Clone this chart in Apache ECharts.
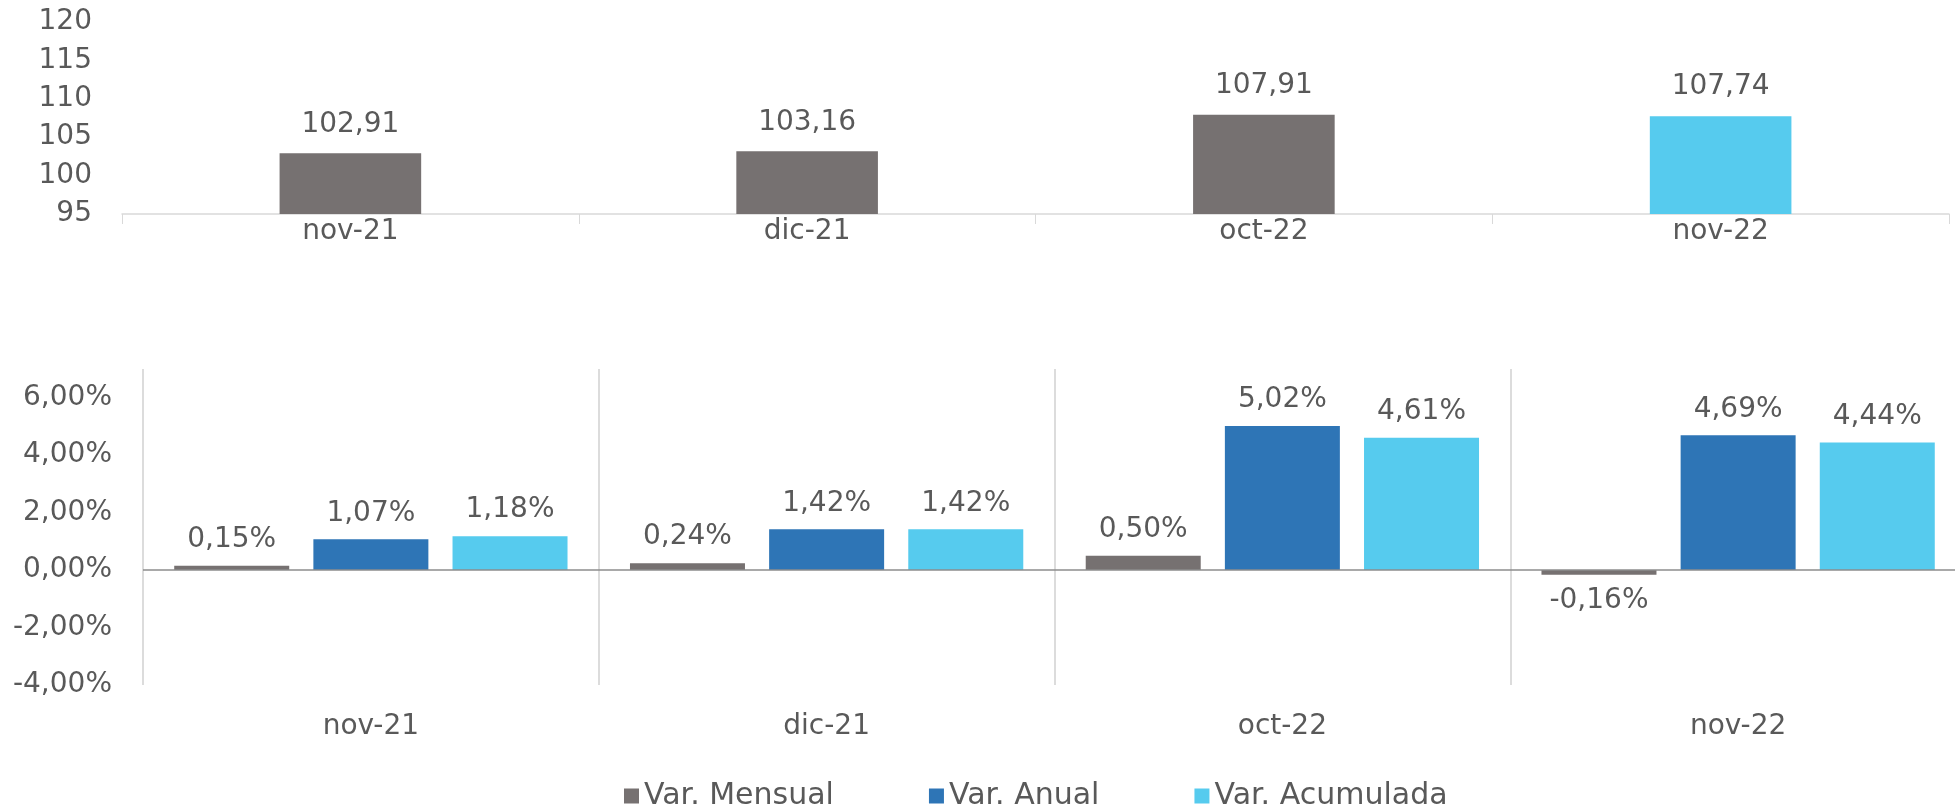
<!DOCTYPE html>
<html>
<head>
<meta charset="utf-8">
<script src="https://cdn.jsdelivr.net/npm/echarts@6/dist/echarts.min.js"></script>
<style>
  html, body { margin: 0; padding: 0; background: #fff; }
  #main { width: 1955px; height: 812px; }
</style>
</head>
<body>
<div id="main"></div>
<script>
// datos
const categories = ['nov-21', 'dic-21', 'oct-22', 'nov-22'];
const indice = [102.91, 103.16, 107.91, 107.74];
const varMensual = [0.15, 0.24, 0.50, -0.16];
const varAnual = [1.07, 1.42, 5.02, 4.69];
const varAcumulada = [1.18, 1.42, 4.61, 4.44];
const indiceTicks = [95, 100, 105, 110, 115, 120];
const pctTicks = [-4, -2, 0, 2, 4, 6];
const pctTop = 7;

const GRIS = '#767171', AZUL = '#2E75B6', CELESTE = '#56CBEE';
const TXT = '#595959';
const FONT = "'DejaVu Sans', sans-serif";
const FS = 28;

const pct = v => v.toFixed(2).replace('.', ',') + '%';

// etiquetas abajo para los negativos
const withPos = arr => arr.map(v => ({
  value: v,
  label: { position: v < 0 ? 'bottom' : 'top' }
}));

const lbl = { show: true, color: TXT, fontFamily: FONT, fontSize: FS, distance: 12 };

const chart = echarts.init(document.getElementById('main'));
chart.setOption({
  animation: false,
  textStyle: { fontFamily: FONT },
  legend: {
    data: ['Var. Mensual', 'Var. Anual', 'Var. Acumulada'],
    left: 619, top: 776,
    itemWidth: 15, itemHeight: 15, itemGap: 95,
    icon: 'rect',
    textStyle: { color: TXT, fontSize: 30, fontFamily: FONT }
  },
  grid: [
    { left: 122, top: 22, width: 1827, height: 192, outerBoundsMode: 'none', containLabel: false },
    { left: 143, top: 369, width: 1823, height: 316, outerBoundsMode: 'none', containLabel: false }
  ],
  xAxis: [
    {
      type: 'category', gridIndex: 0, data: categories,
      axisLine: { lineStyle: { color: '#d9d9d9', width: 1.5 } },
      axisTick: { show: true, length: 10, lineStyle: { color: '#d9d9d9' } },
      axisLabel: { color: TXT, fontSize: FS, fontFamily: FONT, margin: 4 },
      splitLine: { show: false }
    },
    {
      type: 'category', gridIndex: 1, data: categories,
      axisLine: { show: false, onZero: false },
      axisTick: { show: false },
      axisLabel: { color: TXT, fontSize: FS, fontFamily: FONT, margin: 28 },
      splitLine: { show: true, lineStyle: { color: '#d0d0d0', width: 1.5 } }
    }
  ],
  yAxis: [
    {
      type: 'value', gridIndex: 0,
      min: indiceTicks[0], max: indiceTicks[indiceTicks.length - 1],
      interval: indiceTicks[1] - indiceTicks[0],
      axisLine: { show: false }, axisTick: { show: false },
      splitLine: { show: false },
      axisLabel: { color: TXT, fontSize: FS, fontFamily: FONT, margin: 30, padding: [5, 0, 0, 0] }
    },
    {
      type: 'value', gridIndex: 1,
      min: pctTicks[0], max: pctTop,
      interval: pctTicks[1] - pctTicks[0],
      axisLine: { show: false }, axisTick: { show: false },
      splitLine: { show: false },
      axisLabel: {
        color: TXT, fontSize: FS, fontFamily: FONT, margin: 31, padding: [4, 0, 0, 0],
        formatter: v => pctTicks.includes(v) ? pct(v) : ''
      }
    }
  ],
  series: [
    {
      type: 'bar', xAxisIndex: 0, yAxisIndex: 0,
      data: indice, barWidth: '31%',
      itemStyle: { color: p => p.dataIndex === indice.length - 1 ? CELESTE : GRIS },
      label: Object.assign({}, lbl, { position: 'top', distance: 15, formatter: p => p.value.toFixed(2).replace('.', ',') })
    },
    {
      name: 'Var. Mensual', type: 'bar', xAxisIndex: 1, yAxisIndex: 1,
      data: withPos(varMensual), barWidth: 115, barGap: '21%',
      itemStyle: { color: GRIS },
      label: Object.assign({}, lbl, { formatter: p => pct(p.value) }),
      markLine: {
        silent: true, symbol: 'none', label: { show: false },
        lineStyle: { color: '#8c8c8c', width: 1.5, type: 'solid' },
        data: [{ yAxis: 0 }]
      }
    },
    {
      name: 'Var. Anual', type: 'bar', xAxisIndex: 1, yAxisIndex: 1,
      data: withPos(varAnual), barWidth: 115, barGap: '21%',
      itemStyle: { color: AZUL },
      label: Object.assign({}, lbl, { formatter: p => pct(p.value) })
    },
    {
      name: 'Var. Acumulada', type: 'bar', xAxisIndex: 1, yAxisIndex: 1,
      data: withPos(varAcumulada), barWidth: 115, barGap: '21%',
      itemStyle: { color: CELESTE },
      label: Object.assign({}, lbl, { formatter: p => pct(p.value) })
    }
  ]
});
</script>
</body>
</html>
